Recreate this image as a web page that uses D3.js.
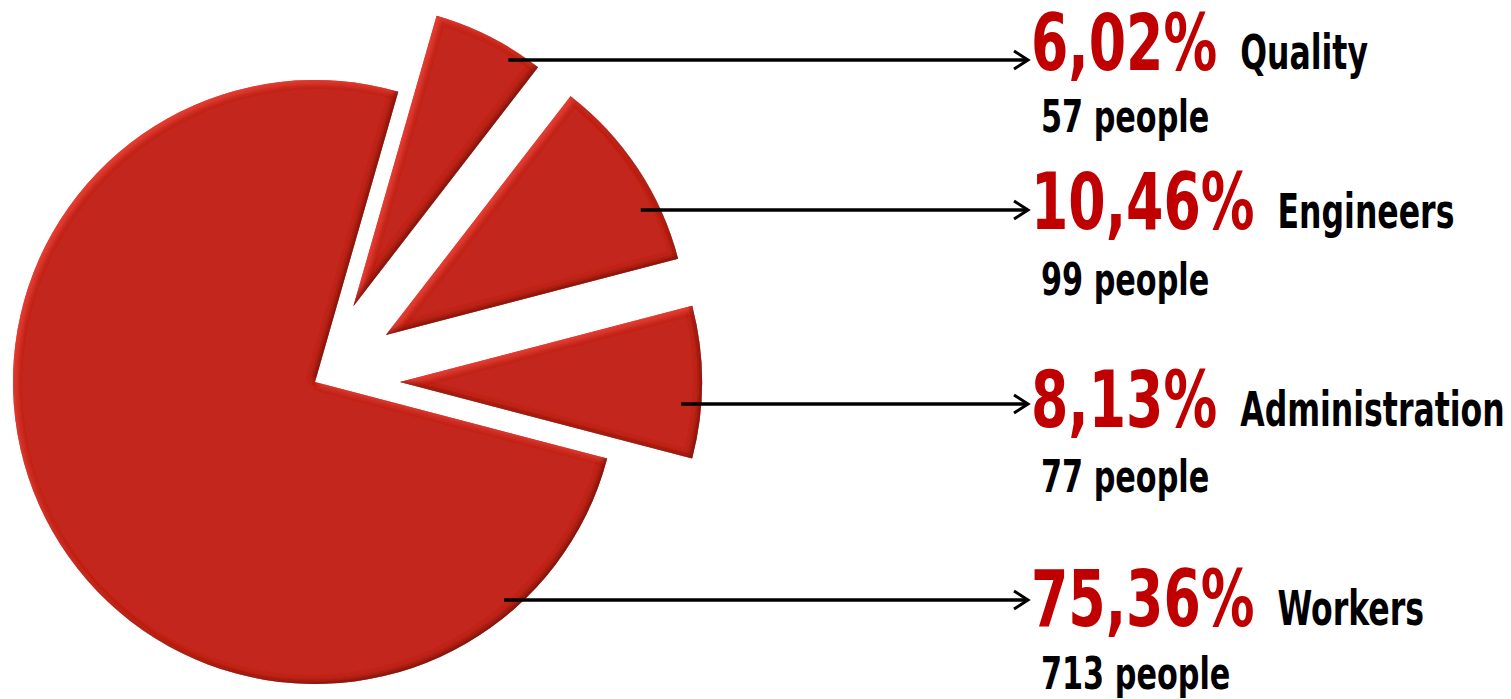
<!DOCTYPE html>
<html>
<head>
<meta charset="utf-8">
<title>Staff structure</title>
<script src="https://d3js.org/d3.v7.min.js"></script>
<style>
  html, body { margin: 0; padding: 0; background: #fff; }
  svg { display: block; }
  .pct { fill: #c00000; font-weight: bold; }
  .lbl, .ppl { fill: #000; font-weight: bold; }
  text { font-family: 'Liberation Sans Narrow', 'DejaVu Sans Condensed', 'Arial Narrow', sans-serif; }
</style>
</head>
<body>
<svg id="chart" width="1511" height="699"></svg>
<script>
// data
var categories = ["Quality", "Engineers", "Administration", "Workers"];
var people = [57, 99, 77, 713];
var percents = ["6,02%", "10,46%", "8,13%", "75,36%"];
var peopleLabels = ["57 people", "99 people", "77 people", "713 people"];

// layout
var cx = 315, cy = 382, radius = 302, explode = 85;
var startDeg = 16;
var arrowY = [60, 210, 404, 600];
var pctY = [70, 229, 427, 626];
var pplY = [132, 295, 492, 689];
var arrowEnd = 1028, textX = 1031, pplX = 1041;
var sx = 0.765, sxLbl = 0.73; // squeeze the condensed font to a narrow look

var svg = d3.select("#chart");
var defs = svg.append("defs");
var f = defs.append("filter").attr("id", "bevel")
  .attr("x", "-5%").attr("y", "-5%").attr("width", "110%").attr("height", "110%");
f.append("feGaussianBlur").attr("in", "SourceAlpha").attr("stdDeviation", 2.5).attr("result", "blur");
f.append("feOffset").attr("in", "blur").attr("dx", 3).attr("dy", 3).attr("result", "offHi");
f.append("feComposite").attr("in", "SourceAlpha").attr("in2", "offHi").attr("operator", "out").attr("result", "hiMask");
f.append("feFlood").attr("flood-color", "#f0443a").attr("flood-opacity", 0.85);
f.append("feComposite").attr("in2", "hiMask").attr("operator", "in").attr("result", "hi");
f.append("feOffset").attr("in", "blur").attr("dx", -3).attr("dy", -3).attr("result", "offSh");
f.append("feComposite").attr("in", "SourceAlpha").attr("in2", "offSh").attr("operator", "out").attr("result", "shMask");
f.append("feFlood").attr("flood-color", "#6a110c").attr("flood-opacity", 0.8);
f.append("feComposite").attr("in2", "shMask").attr("operator", "in").attr("result", "sh");
var m = f.append("feMerge");
m.append("feMergeNode").attr("in", "SourceGraphic");
m.append("feMergeNode").attr("in", "hi");
m.append("feMergeNode").attr("in", "sh");

var s0 = startDeg * Math.PI / 180;
var pie = d3.pie().sort(null).value(d => d).startAngle(s0).endAngle(s0 + 2 * Math.PI);
var arcs = pie(people);
var arc = d3.arc().innerRadius(0).outerRadius(radius);

// offset of each slice centre
function offsetOf(d, i) {
  if (categories[i] == "Workers") return [0, 0];
  var a = (d.startAngle + d.endAngle) / 2;
  return [explode * Math.sin(a), -explode * Math.cos(a)];
}

svg.append("g").selectAll("path")
  .data(arcs).join("path")
  .attr("transform", (d, i) => {
    var o = offsetOf(d, i);
    return `translate(${cx + o[0]},${cy + o[1]})`;
  })
  .attr("d", arc)
  .attr("fill", "#c2261f")
  .attr("filter", "url(#bevel)");

// arrows
var ga = svg.append("g").attr("stroke", "#000").attr("fill", "none").attr("stroke-width", 3.5);
arcs.forEach(function(d, i) {
  var o = offsetOf(d, i);
  var dy = arrowY[i] - (cy + o[1]);
  var x0 = cx + o[0] + Math.sqrt(radius * radius - dy * dy) - 20;
  ga.append("line").attr("x1", x0).attr("y1", arrowY[i]).attr("x2", arrowEnd - 2).attr("y2", arrowY[i]);
  ga.append("path").attr("d", `M${arrowEnd - 14},${arrowY[i] - 9}L${arrowEnd},${arrowY[i]}L${arrowEnd - 14},${arrowY[i] + 9}`)
    .attr("stroke-width", 3);
});

// labels, squeezed horizontally
function squeezed(cls, x, y, size, str, k) {
  var t = gt.append("text").attr("class", cls)
    .attr("transform", `translate(${x},${y}) scale(${k},1)`)
    .attr("font-size", size).text(str);
  return t.node().getComputedTextLength() * k;
}
var gt = svg.append("g");
categories.forEach(function(c, i) {
  var w = squeezed("pct", textX, pctY[i], 78, percents[i], sx);
  squeezed("lbl", textX + w + 23, pctY[i] - 1, 48, c, sxLbl);
  squeezed("ppl", pplX, pplY[i], 44, peopleLabels[i], sx);
});
</script>
</body>
</html>
